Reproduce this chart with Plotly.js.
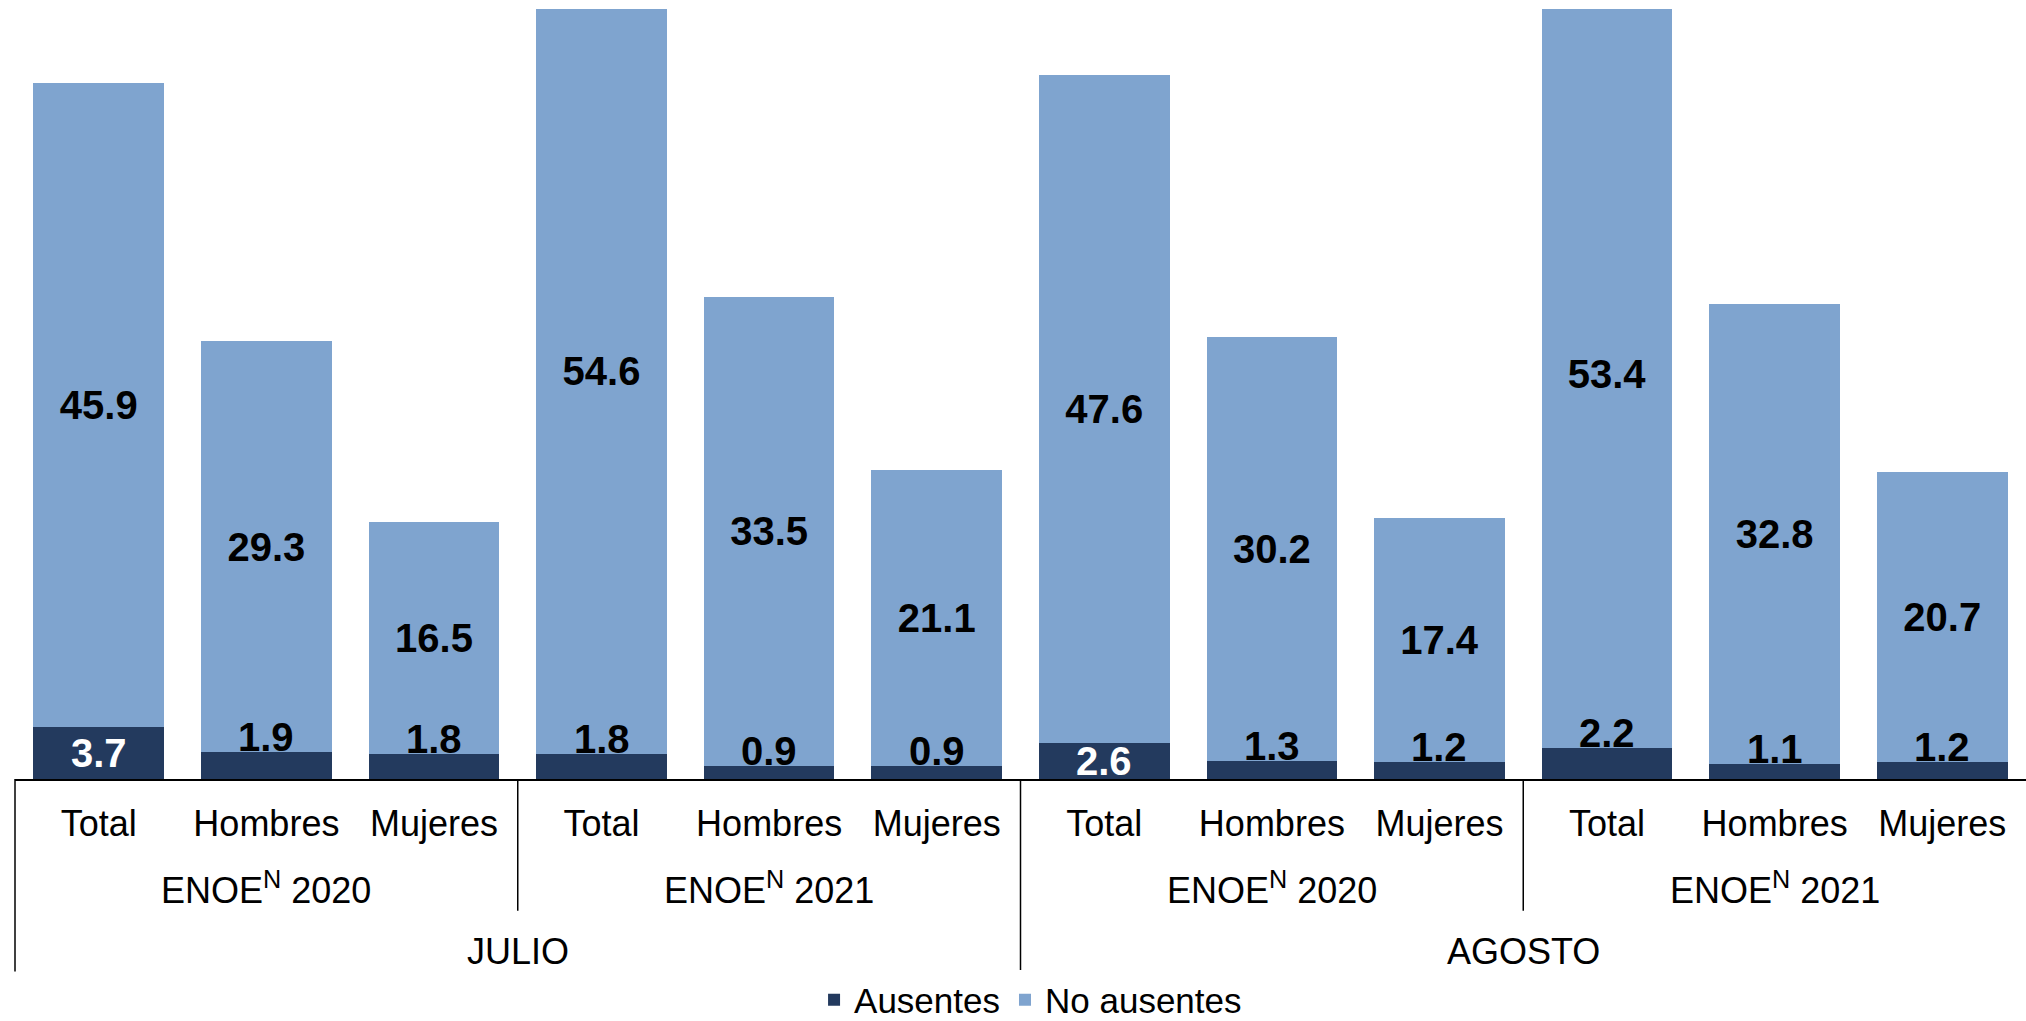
<!DOCTYPE html>
<html>
<head>
<meta charset="utf-8">
<script src="https://cdn.plot.ly/plotly-3.0.1.min.js"></script>
<style>html,body{margin:0;padding:0;background:#fff;}#chart{width:2026px;height:1021px;}</style>
</head>
<body>
<div id="chart"></div>
<script>
// ---- data ----
const months = ['JULIO', 'AGOSTO'];
const surveys = ['ENOE<sup>N</sup> 2020', 'ENOE<sup>N</sup> 2021'];
const sexes = ['Total', 'Hombres', 'Mujeres'];
const ausentes = [3.7, 1.9, 1.8, 1.8, 0.9, 0.9, 2.6, 1.3, 1.2, 2.2, 1.1, 1.2];
const noAusentes = [45.9, 29.3, 16.5, 54.6, 33.5, 21.1, 47.6, 30.2, 17.4, 53.4, 32.8, 20.7];
const seriesNames = ['Ausentes', 'No ausentes'];

// ---- build ----
const FONT = 'Liberation Sans, Arial, sans-serif';
const DARK = '#233a5e';
const LIGHT = '#7fa4cf';
const LBL = 40;
const TXT = 36;

const xIdx = [];
const tickText = [];
months.forEach(() => surveys.forEach(() => sexes.forEach(s => { xIdx.push(xIdx.length); tickText.push(s); })));
const n = xIdx.length;

const traces = [
  {
    type: 'bar', name: seriesNames[0], x: xIdx, y: ausentes,
    marker: {color: DARK}, textposition: 'none', hoverinfo: 'skip'
  },
  {
    type: 'bar', name: seriesNames[1], x: xIdx, y: noAusentes,
    marker: {color: LIGHT},
    text: noAusentes.map(v => v.toFixed(1)),
    textposition: 'inside', insidetextanchor: 'middle', textangle: 0,
    constraintext: 'none',
    insidetextfont: {family: FONT, size: LBL, color: '#000000', weight: 'bold'},
    hoverinfo: 'skip'
  }
];

const annotations = [];
// Ausentes labels
ausentes.forEach((v, i) => {
  const inside = v >= 2.5;
  annotations.push({
    x: i, xref: 'x', y: inside ? v / 2 : v, yref: 'y',
    yanchor: inside ? 'middle' : 'bottom', yshift: inside ? 0 : -9,
    text: '<b>' + v.toFixed(1) + '</b>', showarrow: false,
    font: {family: FONT, size: LBL, color: inside ? '#ffffff' : '#000000'}
  });
});
// survey-level and month-level labels and separators
const shapes = [];
const perMonth = surveys.length * sexes.length;
months.forEach((m, mi) => {
  surveys.forEach((s, si) => {
    const start = mi * perMonth + si * sexes.length;
    annotations.push({
      x: start + (sexes.length - 1) / 2, xref: 'x', y: -0.1416, yref: 'paper',
      yanchor: 'middle', text: s, showarrow: false,
      font: {family: FONT, size: TXT, color: '#000000'}
    });
    if (si > 0) {
      const xb = start / n;
      shapes.push({type: 'line', xref: 'paper', yref: 'paper', x0: xb, x1: xb, y0: 0, y1: -0.171,
        line: {color: '#000000', width: 1.5}});
    }
  });
  const mStart = mi * perMonth;
  annotations.push({
    x: mStart + (perMonth - 1) / 2, xref: 'x', y: -0.2234, yref: 'paper',
    yanchor: 'middle', text: m, showarrow: false,
    font: {family: FONT, size: TXT, color: '#000000'}
  });
  const xm = mStart / n;
  shapes.push({type: 'line', xref: 'paper', yref: 'paper', x0: xm, x1: xm, y0: 0, y1: -0.25,
    line: {color: '#000000', width: 1.5}});
});

const layout = {
  width: 2026, height: 1021,
  margin: {l: 15, r: 0, t: 9, b: 242, autoexpand: false},
  paper_bgcolor: '#ffffff', plot_bgcolor: '#ffffff',
  barmode: 'stack', bargap: 0.22,
  font: {family: FONT, size: TXT, color: '#000000'},
  xaxis: {
    range: [-0.5, n - 0.5], tickvals: xIdx, ticktext: tickText,
    showline: true, linecolor: '#000000', linewidth: 1.5,
    showgrid: false, zeroline: false, ticks: '', ticklabelstandoff: 12,
    tickfont: {family: FONT, size: TXT, color: '#000000'}, fixedrange: true,
    automargin: false
  },
  yaxis: {range: [0, 54.9], visible: false, showgrid: false, zeroline: false, fixedrange: true, automargin: false},
  showlegend: true,
  legend: {
    orientation: 'h', x: 0.505, xanchor: 'center', y: -0.287, yanchor: 'middle',
    font: {family: FONT, size: 35, color: '#000000'}, traceorder: 'normal',
    itemwidth: 30, tracegroupgap: 0
  },
  annotations: annotations,
  shapes: shapes
};

Plotly.newPlot('chart', traces, layout, {displayModeBar: false, staticPlot: true});
</script>
</body>
</html>
